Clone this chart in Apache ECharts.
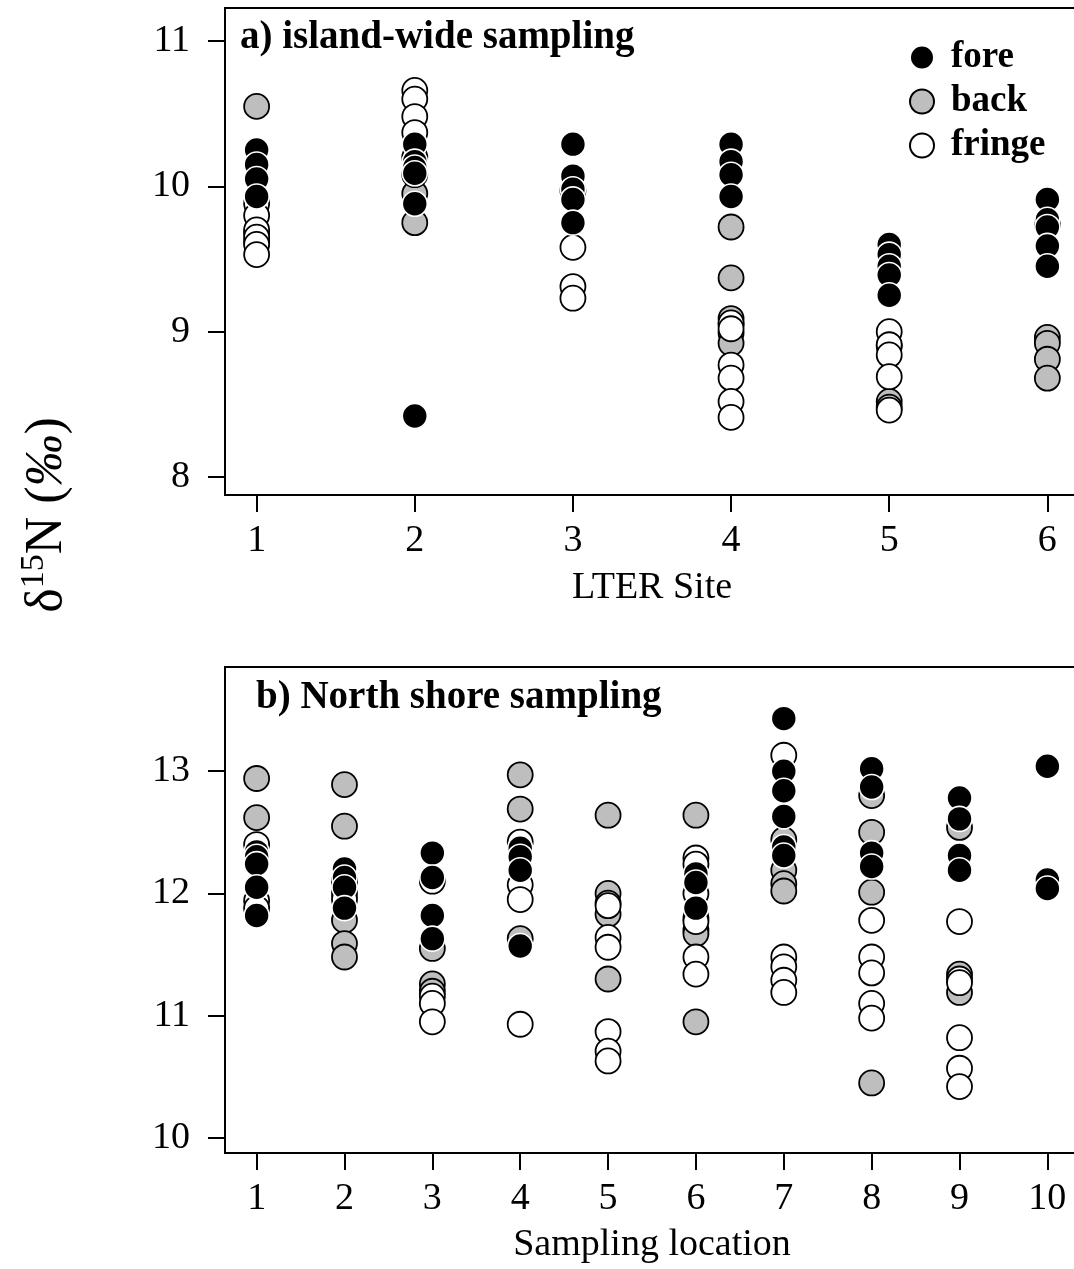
<!DOCTYPE html>
<html>
<head>
<meta charset="utf-8">
<script src="https://cdn.jsdelivr.net/npm/echarts@6/dist/echarts.min.js"></script>
<style>
html,body{margin:0;padding:0;background:#fff;}
#chart{width:1074px;height:1269px;}
</style>
</head>
<body>
<div id="chart"></div>
<script>
// ---------- data ----------
const sitesA = [1, 2, 3, 4, 5, 6];
const foreA = [
  [10.25, 10.15, 10.05, 9.93],
  [10.29, 10.17, 10.13, 10.09, 9.88, 8.42],
  [10.29, 10.07, 9.98, 9.91, 9.75],
  [10.29, 10.17, 10.08, 9.93],
  [9.60, 9.53, 9.45, 9.39, 9.25],
  [9.91, 9.77, 9.72, 9.59, 9.45]
];
const backA = [
  [10.55, 9.68, 9.62],
  [9.75, 9.95],
  [],
  [9.72, 9.37, 9.09, 9.05, 8.99, 8.92],
  [8.52, 8.48, 8.90],
  [8.96, 8.92, 8.81, 8.68]
];
const fringeA = [
  [9.88, 9.80, 9.70, 9.65, 9.60, 9.53],
  [10.66, 10.60, 10.48, 10.37, 10.20, 10.08],
  [9.97, 9.58, 9.31, 9.23],
  [9.06, 9.02, 8.77, 8.68, 8.52, 8.41],
  [9.00, 8.91, 8.84, 8.69, 8.46],
  [9.74]
];

const sitesB = [1, 2, 3, 4, 5, 6, 7, 8, 9, 10];
const foreB = [
  [12.34, 12.30, 12.24, 12.05, 11.82],
  [12.20, 12.13, 12.05, 11.88],
  [12.33, 12.13, 11.82, 11.63],
  [12.37, 12.30, 12.19, 11.57],
  [],
  [12.16, 12.09, 11.88],
  [13.43, 13.00, 12.84, 12.63, 12.38, 12.31],
  [13.02, 12.87, 12.33, 12.22],
  [12.78, 12.61, 12.31, 12.19],
  [13.04, 12.11, 12.04]
];
const backB = [
  [12.94, 12.62],
  [12.89, 12.55, 11.78, 11.59, 11.48],
  [11.55, 11.26, 11.20],
  [12.97, 12.69, 11.63],
  [12.64, 12.00, 11.92, 11.83, 11.30],
  [12.64, 11.70, 11.67, 10.95],
  [12.44, 12.19, 12.08, 12.02],
  [12.80, 12.50, 12.01, 10.45],
  [12.54, 11.34, 11.19],
  []
];
const fringeB = [
  [12.40, 11.94, 11.88],
  [12.10, 12.00, 11.95],
  [12.10, 11.16, 11.10, 10.95],
  [12.42, 12.07, 11.95, 10.93],
  [11.90, 11.64, 11.56, 10.87, 10.71, 10.63],
  [12.29, 12.24, 12.00, 11.80, 11.77, 11.48, 11.34],
  [13.13, 11.48, 11.40, 11.29, 11.19],
  [11.78, 11.48, 11.35, 11.10, 10.98],
  [11.77, 11.30, 11.27, 10.82, 10.57, 10.42],
  []
];

const yTicksA = [8, 9, 10, 11];
const yTicksB = [10, 11, 12, 13];

// ---------- helpers ----------
function pairs(sites, groups) {
  const out = [];
  groups.forEach((vals, i) => vals.forEach(v => out.push([sites[i], v])));
  return out;
}
const FONT = "'Liberation Serif', 'Times New Roman', serif";
const styles = {
  fore:   { color: '#000000', borderColor: '#ffffff', borderWidth: 1.6, opacity: 1 },
  back:   { color: '#bebebe', borderColor: '#000000', borderWidth: 1.8, opacity: 1 },
  fringe: { color: '#ffffff', borderColor: '#000000', borderWidth: 1.8, opacity: 1 }
};
function ser(name, idx, data) {
  return {
    name: name, type: 'scatter', xAxisIndex: idx, yAxisIndex: idx,
    data: data, symbol: 'circle', symbolSize: 25,
    itemStyle: styles[name], emphasis: { disabled: true }, silent: true
  };
}
function xAx(idx, min, max, ticks) {
  return {
    type: 'value', gridIndex: idx, min: min, max: max,
    axisLine: { show: false },
    splitLine: { show: false },
    axisTick: { show: true, inside: false, length: 17, customValues: ticks, lineStyle: { color: '#000', width: 2 } },
    axisLabel: { customValues: ticks, margin: 27, color: '#000', fontFamily: FONT, fontSize: 38 }
  };
}
function yAx(idx, min, max, ticks) {
  return {
    type: 'value', gridIndex: idx, min: min, max: max,
    axisLine: { show: false },
    splitLine: { show: false },
    axisTick: { show: true, inside: false, length: 17, customValues: ticks, lineStyle: { color: '#000', width: 2 } },
    axisLabel: { customValues: ticks, margin: 35, color: '#000', fontFamily: FONT, fontSize: 38 }
  };
}

const chart = echarts.init(document.getElementById('chart'), null, { renderer: 'canvas' });
chart.setOption({
  animation: false,
  backgroundColor: '#ffffff',
  grid: [
    { left: 225, top: 8, width: 854, height: 487, outerBoundsMode: 'none', containLabel: false, show: true, borderColor: '#000', borderWidth: 2, backgroundColor: 'transparent' },
    { left: 225, top: 667, width: 854, height: 486, outerBoundsMode: 'none', containLabel: false, show: true, borderColor: '#000', borderWidth: 2, backgroundColor: 'transparent' }
  ],
  xAxis: [
    xAx(0, 0.8, 6.2, sitesA),
    xAx(1, 0.64, 10.36, sitesB)
  ],
  yAxis: [
    yAx(0, 7.876, 11.227, yTicksA),
    yAx(1, 9.877, 13.852, yTicksB)
  ],
  legend: {
    data: ['fore', 'back', 'fringe'],
    orient: 'vertical', left: 904, top: 34,
    itemWidth: 24, itemHeight: 24, itemGap: 7,
    selectedMode: false,
    textStyle: { fontFamily: FONT, fontWeight: 'bold', fontSize: 37, color: '#000', padding: [0, 0, 0, 12] }
  },
  series: [
    ser('back', 0, pairs(sitesA, backA)),
    ser('fringe', 0, pairs(sitesA, fringeA)),
    ser('fore', 0, pairs(sitesA, foreA)),
    ser('back', 1, pairs(sitesB, backB)),
    ser('fringe', 1, pairs(sitesB, fringeB)),
    ser('fore', 1, pairs(sitesB, foreB))
  ],
  graphic: [
    { type: 'text', left: 240, top: 18, style: { text: 'a) island-wide sampling', font: "bold 39px 'Liberation Serif', serif", fill: '#000' } },
    { type: 'text', left: 256, top: 678, style: { text: 'b) North shore sampling', font: "bold 39px 'Liberation Serif', serif", fill: '#000' } },
    { type: 'text', x: 652, y: 588, style: { text: 'LTER Site', font: "38px 'Liberation Serif', serif", fill: '#000', align: 'center', verticalAlign: 'middle' } },
    { type: 'text', x: 652, y: 1245, style: { text: 'Sampling location', font: "38px 'Liberation Serif', serif", fill: '#000', align: 'center', verticalAlign: 'middle' } },
    { type: 'text', x: 45, y: 515, rotation: Math.PI / 2,
      style: {
        text: '{a|δ}{s|15}{a|N (}{i|‰}{a|)}',
        align: 'center', verticalAlign: 'middle', fill: '#000',
        rich: {
          a: { fontFamily: FONT, fontSize: 52, lineHeight: 56, fill: '#000', verticalAlign: 'bottom' },
          s: { fontFamily: FONT, fontSize: 34, lineHeight: 56, fill: '#000', verticalAlign: 'top', padding: [0, 0, 18, 0] },
          i: { fontFamily: FONT, fontSize: 52, fontStyle: 'italic', lineHeight: 56, fill: '#000', verticalAlign: 'bottom' }
        }
      }
    }
  ]
});
</script>
</body>
</html>
